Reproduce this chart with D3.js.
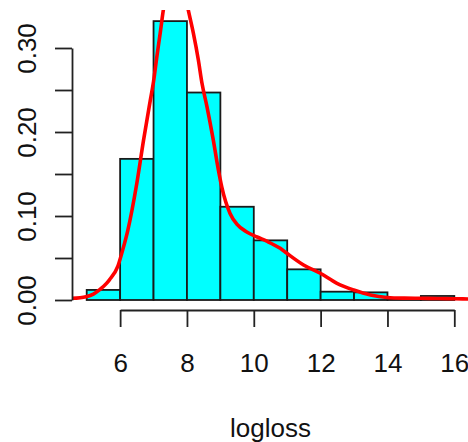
<!DOCTYPE html>
<html>
<head>
<meta charset="utf-8">
<script src="https://cdn.jsdelivr.net/npm/d3@7/dist/d3.min.js"></script>
<style>
  html, body { margin: 0; padding: 0; background: #fff; }
  svg { display: block; }
  text { font-family: "Liberation Sans", Arial, sans-serif; fill: #111; }
</style>
</head>
<body>
<svg id="chart" width="468" height="442"></svg>
<script>
// Histogram of logloss (density scale), bins of width 1
const binStarts = [5, 6, 7, 8, 9, 10, 11, 12, 13, 14, 15];
const binDensity = [0.012, 0.168, 0.332, 0.247, 0.111, 0.071, 0.0365, 0.0099, 0.0091, 0.002, 0.0048];

// Kernel density estimate overlaid on the histogram
const densX = [4.56, 4.98, 5.2, 5.38, 5.6, 5.68, 5.93, 6.08, 6.23, 6.5, 6.7, 6.9, 7.0, 7.1, 7.2, 7.3,
               7.45, 7.65, 7.85, 8.04, 8.19, 8.34, 8.45, 8.6, 8.79, 8.94, 9.04, 9.29, 9.5, 9.79,
               10.1, 10.39, 10.79, 10.99, 11.49, 11.99, 12.49, 12.99, 13.49, 13.99, 14.5, 14.98,
               15.5, 16.0, 16.5];
const densY = [0.002, 0.004, 0.007, 0.012, 0.020, 0.024, 0.040, 0.060, 0.083, 0.139, 0.19, 0.237, 0.26, 0.29, 0.318, 0.347,
               0.375, 0.39, 0.38, 0.345, 0.318, 0.286, 0.258, 0.230, 0.190, 0.155, 0.135, 0.103, 0.090, 0.081,
               0.075, 0.070, 0.0615, 0.0556, 0.0417, 0.0318, 0.0198, 0.0119, 0.006, 0.0030, 0.0022, 0.0020,
               0.0018, 0.0015, 0.0012];

const xTicks = [6, 8, 10, 12, 14, 16];
const yTicks = [0, 0.05, 0.10, 0.15, 0.20, 0.25, 0.30];
const yLabelled = ["0.00", "0.10", "0.20", "0.30"];
const xTitle = "logloss";

const svg = d3.select("#chart");
const fontSize = 26;

// plot region
const x = d3.scaleLinear().domain([4.56, 16.44]).range([72, 469]);
const y = d3.scaleLinear().domain([0, 0.30]).range([300, 48]);
const yTop = y(0.3453);
const yBottom = y(-0.0133);

svg.append("defs").append("clipPath").attr("id", "plotclip")
  .append("rect")
  .attr("x", x.range()[0]).attr("y", yTop)
  .attr("width", x.range()[1] - x.range()[0]).attr("height", yBottom - yTop);

// bars
svg.append("g").selectAll("rect")
  .data(binStarts.map((s, i) => ({ s, d: binDensity[i] })))
  .join("rect")
  .attr("x", d => x(d.s))
  .attr("y", d => y(d.d))
  .attr("width", d => x(d.s + 1) - x(d.s))
  .attr("height", d => y(0) - y(d.d))
  .attr("fill", "#00ffff")
  .attr("stroke", "#1a1a1a")
  .attr("stroke-width", 1.8);

// density curve
const pts = densX.map((v, i) => [v, densY[i]]);
svg.append("path")
  .attr("clip-path", "url(#plotclip)")
  .attr("d", d3.line().x(d => x(d[0])).y(d => y(d[1])).curve(d3.curveMonotoneX)(pts))
  .attr("fill", "none")
  .attr("stroke", "#ff0000")
  .attr("stroke-width", 3.6)
  .attr("stroke-linejoin", "round");

// x axis
const xAxisScale = d3.scaleLinear().domain([6, 16]).range([x(6), x(16)]);
const gx = svg.append("g")
  .attr("transform", `translate(0,310)`)
  .call(d3.axisBottom(xAxisScale).tickValues(xTicks).tickSize(17).tickSizeOuter(0).tickPadding(27)
        .tickFormat(d3.format("d")));
gx.selectAll("path, line").attr("stroke", "#222").attr("stroke-width", 1.8);
gx.selectAll("text").attr("font-size", fontSize).attr("font-family", null).style("fill", "#111");

// y axis
const gy = svg.append("g")
  .attr("transform", `translate(72,0)`)
  .call(d3.axisLeft(y).tickValues(yTicks).tickSize(17).tickSizeOuter(0)
        .tickFormat(d => { const s = d3.format(".2f")(d); return yLabelled.includes(s) ? s : ""; }));
gy.selectAll("path, line").attr("stroke", "#222").attr("stroke-width", 1.8);
gy.selectAll("text")
  .attr("font-size", fontSize).attr("font-family", null).style("fill", "#111")
  .attr("x", null).attr("dy", "0.35em")
  .attr("text-anchor", "middle")
  .attr("transform", "translate(-45,0) rotate(-90)");

// axis title
svg.append("text")
  .attr("x", (x.range()[0] + x.range()[1]) / 2)
  .attr("y", 436.5)
  .attr("text-anchor", "middle")
  .attr("font-size", fontSize)
  .text(xTitle);
</script>
</body>
</html>
